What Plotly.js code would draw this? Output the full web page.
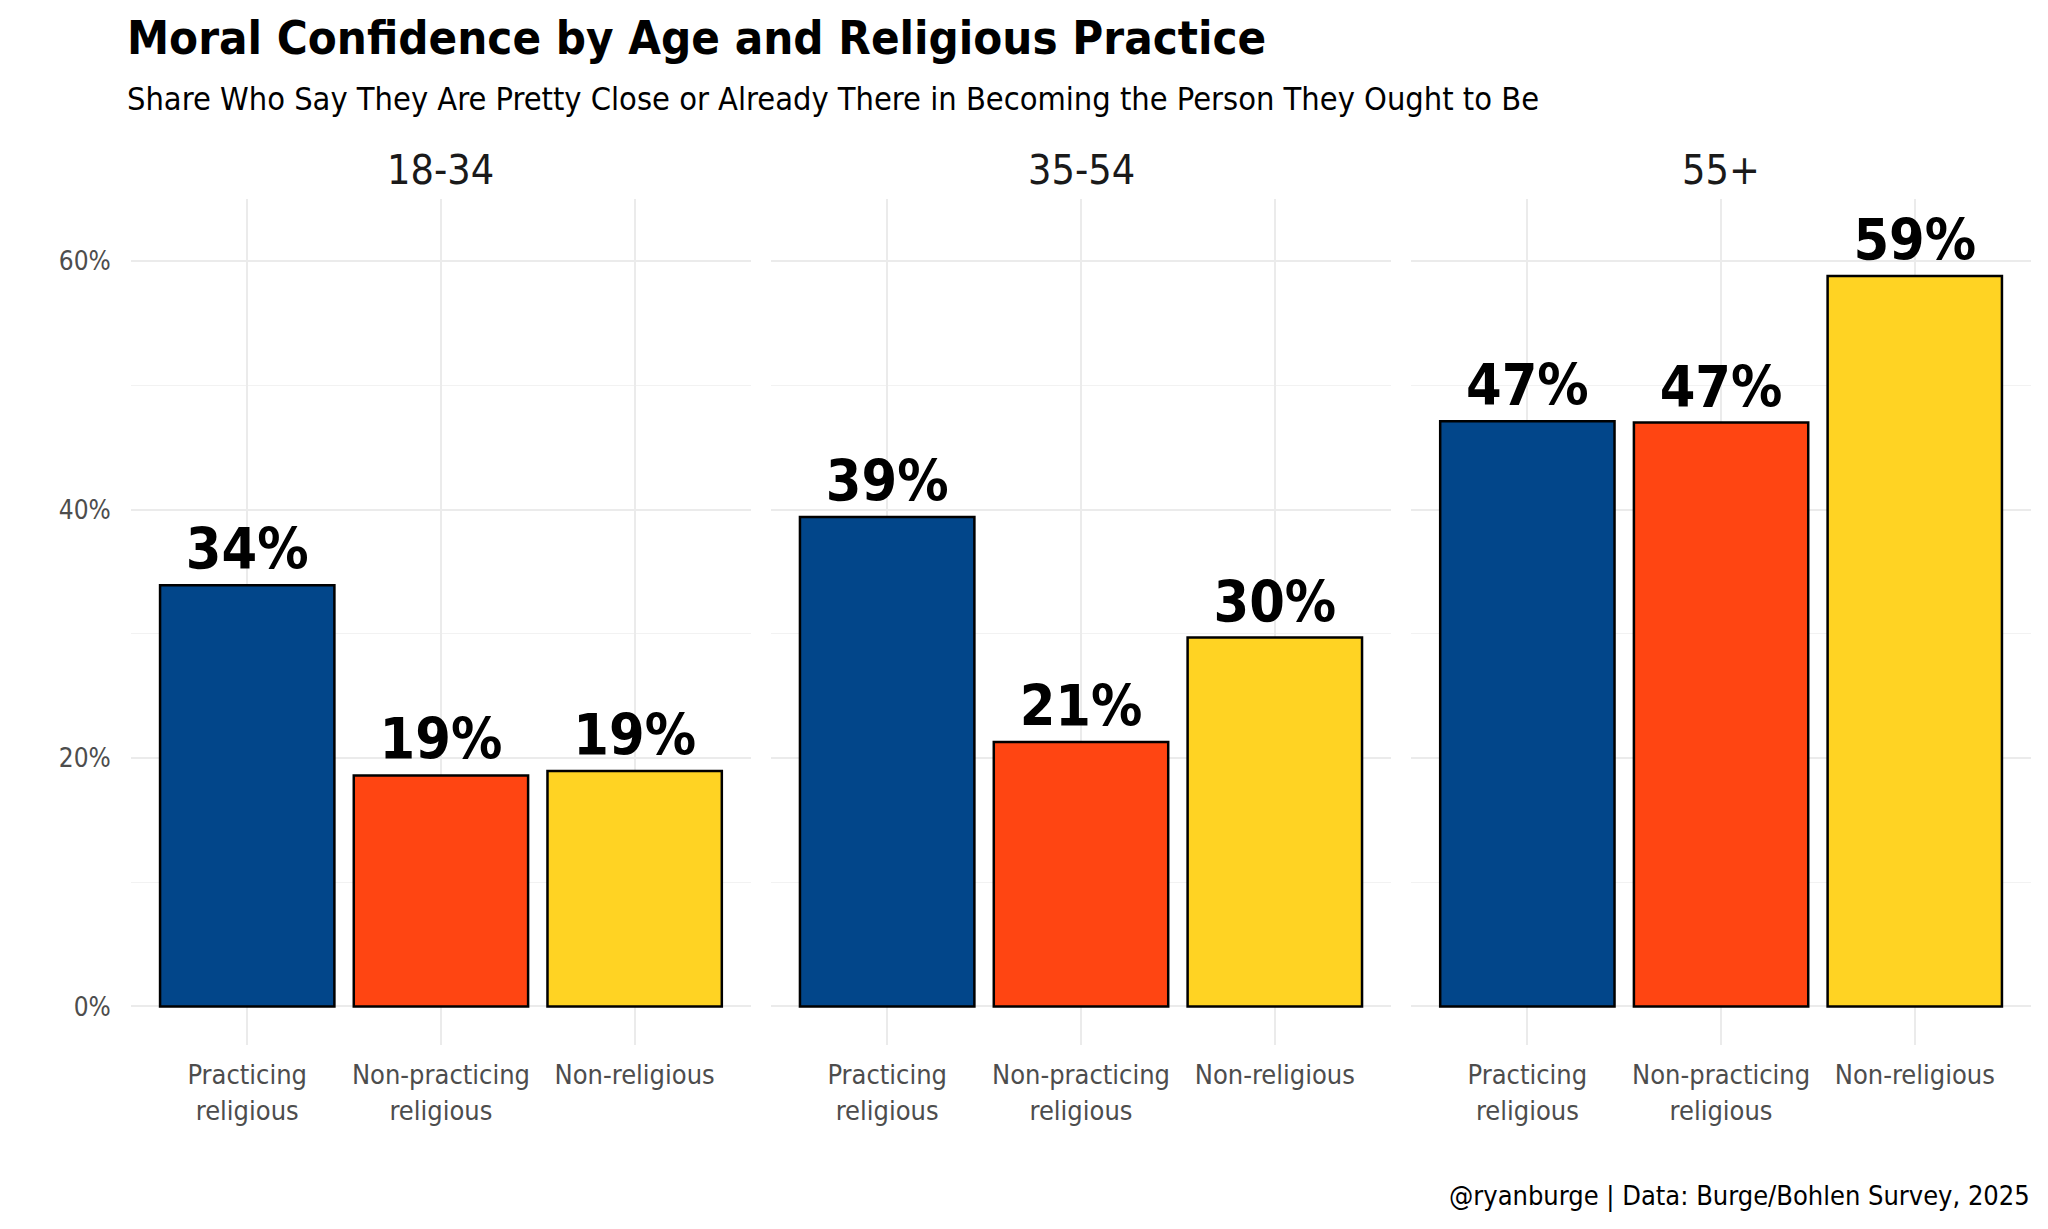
<!DOCTYPE html>
<html>
<head>
<meta charset="utf-8">
<script src="https://cdn.plot.ly/plotly-3.0.1.min.js"></script>
<style>html,body{margin:0;padding:0;background:#fff;}#chart{width:2048px;height:1229px;}</style>
</head>
<body>
<div id="chart"></div>
<script>
const ageGroups = ["18-34", "35-54", "55+"];
const categories = ["Practicing<br>religious", "Non-practicing<br>religious", "Non-religious"];
const practicing = [33.9, 39.4, 47.1];
const nonPracticing = [18.6, 21.3, 47.0];
const nonReligious = [18.95, 29.7, 58.8];
const barColors = ["#02468A", "#FF4512", "#FFD323"];
const yTickVals = [0, 20, 40, 60];
const yTickText = ["0%", "20%", "40%", "60%"];

const FONT = '"Liberation Sans Narrow", "DejaVu Sans Condensed", "Roboto Condensed", Roboto, sans-serif';

const traces = [];
const domains = [[0, 0.32625], [0.33678, 0.66322], [0.67375, 1]];
ageGroups.forEach((g, i) => {
  const vals = [practicing[i], nonPracticing[i], nonReligious[i]];
  const sfx = i === 0 ? '' : String(i + 1);
  traces.push({
    type: 'bar',
    x: categories,
    y: vals,
    xaxis: 'x' + sfx,
    yaxis: 'y' + sfx,
    width: 0.9,
    marker: {color: barColors, line: {color: '#000', width: 2.5}},
    text: vals.map(v => Math.round(v) + '%'),
    textposition: 'outside',
    cliponaxis: false,
    constraintext: 'none',
    textfont: {family: FONT, size: 57, color: '#000', weight: 'bold'},
    hoverinfo: 'skip',
    showlegend: false
  });
});

const layout = {
  width: 2048, height: 1229,
  margin: {l: 130.6, r: 17, t: 198.5, b: 184},
  paper_bgcolor: '#fff', plot_bgcolor: '#fff',
  font: {family: FONT, color: '#4d4d4d'},
  bargap: 0.1,
  annotations: [],
  showlegend: false
};

ageGroups.forEach((g, i) => {
  const sfx = i === 0 ? '' : String(i + 1);
  layout['xaxis' + sfx] = {
    domain: domains[i],
    anchor: 'y' + sfx,
    type: 'category',
    categoryorder: 'array', categoryarray: categories,
    range: [-0.6, 2.6],
    showgrid: true, gridcolor: '#ebebeb', gridwidth: 2,
    zeroline: false, showline: false,
    ticks: 'outside', ticklen: 6, tickcolor: 'rgba(0,0,0,0)',
    tickfont: {family: FONT, size: 27, color: '#4d4d4d'},
    fixedrange: true
  };
  layout['yaxis' + sfx] = {
    anchor: 'x' + sfx,
    range: [-3.1, 65],
    tickvals: yTickVals, ticktext: yTickText,
    showticklabels: i === 0,
    showgrid: true, gridcolor: '#ebebeb', gridwidth: 2,
    minor: {dtick: 10, tick0: 0, showgrid: true, gridcolor: '#f2f2f2', gridwidth: 1},
    zeroline: false, showline: false,
    ticks: i === 0 ? 'outside' : '', ticklen: 14, tickcolor: 'rgba(0,0,0,0)',
    tickfont: {family: FONT, size: 26, color: '#4d4d4d'},
    fixedrange: true
  };
  layout.annotations.push({
    xref: 'paper', yref: 'paper',
    x: (domains[i][0] + domains[i][1]) / 2, y: 1.0337,
    xanchor: 'center', yanchor: 'middle',
    text: g, showarrow: false,
    font: {family: FONT, size: 41, color: '#1a1a1a'}
  });
});

layout.annotations.push({
  xref: 'paper', yref: 'paper', x: -0.003, y: 1.1912,
  xanchor: 'left', yanchor: 'middle', showarrow: false,
  text: 'Moral Confidence by Age and Religious Practice',
  font: {family: FONT, size: 47, color: '#000', weight: 'bold'}
});
layout.annotations.push({
  xref: 'paper', yref: 'paper', x: -0.003, y: 1.1187,
  xanchor: 'left', yanchor: 'middle', showarrow: false,
  text: 'Share Who Say They Are Pretty Close or Already There in Becoming the Person They Ought to Be',
  font: {family: FONT, size: 32.3, color: '#000'}
});
layout.annotations.push({
  xref: 'paper', yref: 'paper', x: 1.0006, y: -0.1784,
  xanchor: 'right', yanchor: 'middle', showarrow: false,
  text: '@ryanburge | Data: Burge/Bohlen Survey, 2025',
  font: {family: FONT, size: 27, color: '#000'}
});

Plotly.newPlot('chart', traces, layout, {displayModeBar: false, staticPlot: true});
</script>
</body>
</html>
